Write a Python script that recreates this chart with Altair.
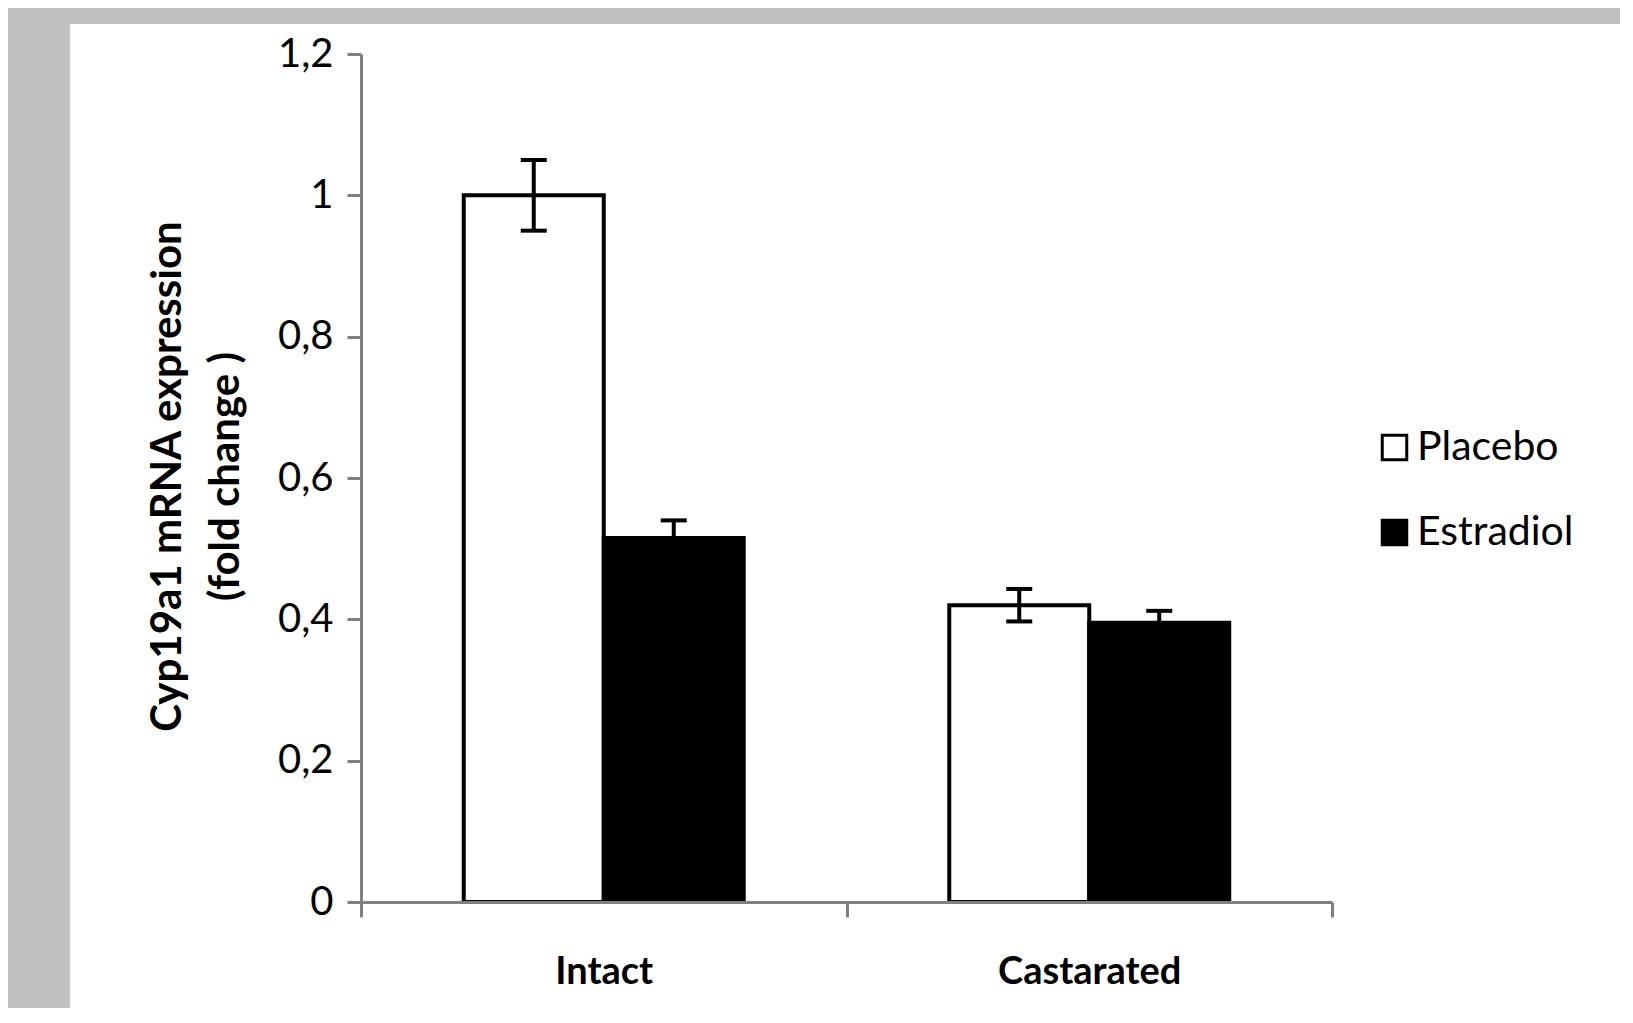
import altair as alt
import pandas as pd

groups = ["Intact", "Intact", "Castarated", "Castarated"]
treatments = ["Placebo", "Estradiol", "Placebo", "Estradiol"]
means = [1.0, 0.515, 0.42, 0.395]
errors = [0.05, 0.025, 0.023, 0.017]

group_order = ["Intact", "Castarated"]
treat_order = ["Placebo", "Estradiol"]
y_ticks = [0, 0.2, 0.4, 0.6, 0.8, 1.0, 1.2]

df = pd.DataFrame({"group": groups, "treatment": treatments, "mean": means, "err": errors})
df["lo"] = df["mean"] - df["err"]
df["hi"] = df["mean"] + df["err"]

FONT = "Lato"
AXIS_COLOR = "#808080"

x_enc = alt.X(
    "group:N",
    sort=group_order,
    scale=alt.Scale(domain=group_order, paddingInner=0, paddingOuter=0),
    axis=alt.Axis(
        title=None, labelAngle=0, tickBand="extent", tickSize=15, tickWidth=3,
        tickColor=AXIS_COLOR, domainColor=AXIS_COLOR, domainWidth=3,
        labelFont=FONT, labelFontSize=38, labelFontWeight="bold", labelColor="black",
        labelPadding=36, labelLimit=1000, zindex=1,
    ),
)
xoff_enc = alt.XOffset(
    "treatment:N", sort=treat_order,
    scale=alt.Scale(domain=treat_order, paddingInner=0, paddingOuter=0.734),
)
y_scale = alt.Scale(domain=[0, 1.2], nice=False, zero=True)

bg = alt.Chart(pd.DataFrame({"a": [0]})).mark_rect(color="white").encode(
    x=alt.value(-291), x2=alt.value(1267), y=alt.value(-30), y2=alt.value(959)
)

bars = alt.Chart(df).mark_bar(stroke="black", strokeWidth=4).encode(
    x=x_enc,
    xOffset=xoff_enc,
    y=alt.Y(
        "mean:Q", scale=y_scale,
        axis=alt.Axis(
            values=y_ticks, tickSize=14, tickWidth=3, tickColor=AXIS_COLOR,
            domainColor=AXIS_COLOR, domainWidth=3, grid=False, zindex=1,
            labelFont=FONT, labelFontSize=40, labelColor="black", labelPadding=14,
            labelExpr="replace(format(datum.value, ''), '.', ',')",
            title=["Cyp19a1 mRNA expression", "(fold change )"],
            titleFont=FONT, titleFontSize=42, titleFontWeight="bold", titleColor="black",
            titleLineHeight=58, titleAngle=270, titleX=-194, titleY=422,
            titleAlign="center", titleBaseline="middle", titleLimit=2000,
        ),
    ),
    fill=alt.Fill(
        "treatment:N", sort=treat_order,
        scale=alt.Scale(domain=treat_order, range=["white", "black"]),
        legend=alt.Legend(
            title=None, orient="none", legendX=1013, legendY=373,
            symbolType="square", symbolSize=600, symbolStrokeColor="black",
            symbolStrokeWidth=3, labelFont=FONT, labelFontSize=41, labelColor="black",
            labelOffset=2, rowPadding=43, labelLimit=1000, zindex=1,
        ),
    ),
)

rules = alt.Chart(df).mark_rule(color="black", strokeWidth=4).encode(
    x=alt.X("group:N", sort=group_order), xOffset=xoff_enc,
    y=alt.Y("lo:Q", scale=y_scale), y2="hi:Q",
)
caps_hi = alt.Chart(df).mark_tick(color="black", size=26, thickness=4, opacity=1).encode(
    x=alt.X("group:N", sort=group_order), xOffset=xoff_enc,
    y=alt.Y("hi:Q", scale=y_scale),
)
caps_lo = alt.Chart(df).mark_tick(color="black", size=26, thickness=4, opacity=1).encode(
    x=alt.X("group:N", sort=group_order), xOffset=xoff_enc,
    y=alt.Y("lo:Q", scale=y_scale),
)

chart = alt.layer(bg, bars, rules, caps_hi, caps_lo).properties(
    width=971, height=848,
    background="#c0c0c0",
    padding={"left": 353, "top": 46, "right": 288, "bottom": 106},
    autosize=alt.AutoSizeParams(type="none"),
).configure_view(stroke=None)

chart.save("out.html", embed_options={"renderer": "svg", "actions": False})
